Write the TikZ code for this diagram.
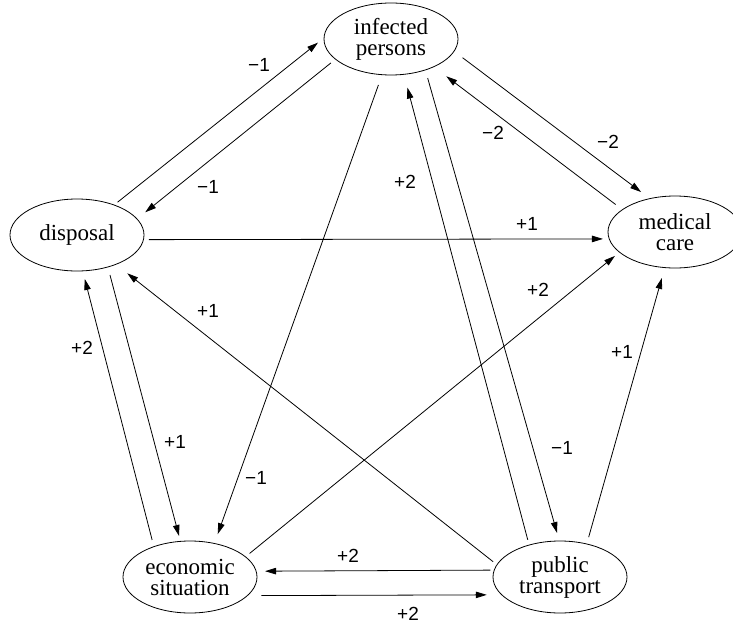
\documentclass[tikz,border=0pt]{standalone}
\usepackage{fontspec}
\setmainfont{Liberation Serif}
\newfontfamily\lblfont{Liberation Sans}
\usetikzlibrary{arrows.meta,shapes.geometric}
\begin{document}
\begin{tikzpicture}[x=1pt,y=-1pt,
  state/.style={draw, ellipse, line width=0.8pt, minimum width=134pt, minimum height=72pt,
    inner sep=0pt, outer sep=0pt, align=center, font=\fontsize{23}{21}\selectfont},
  arr/.style={line width=0.8pt, -{Triangle[length=11pt,width=6.5pt]}},
  lbl/.style={font=\lblfont\fontsize{19}{19}\selectfont, inner sep=0pt}]
\path[use as bounding box, fill=white] (0,0) rectangle (733,626);

\node[state] (inf)  at (391,39)  {infected\\persons};
\node[state] (disp) at (77,235)  {disposal};
\node[state] (med)  at (675,232) {medical\\care};
\node[state] (econ) at (190,577) {economic\\situation};
\node[state] (pub)  at (560,577) {public\\transport};

\draw[arr, shorten <=4.5pt, shorten >=7.7pt] (disp.39.6) -- (inf.179.4) node[lbl] at (259,65) {−1};
\draw[arr, shorten <=6pt, shorten >=10.6pt] (inf.200.1) -- (disp.15.3) node[lbl] at (208,187) {−1};
\draw[arr, shorten <=5.4pt, shorten >=6.3pt] (disp.356.6) -- (med.186.1) node[lbl] at (527,224) {+1};
\draw[arr, shorten <=10.7pt, shorten >=11pt] (inf.349.7) -- (med.127.1) node[lbl] at (608,142) {−2};
\draw[arr, shorten <=8.5pt, shorten >=15.8pt] (med.157.7) -- (inf.327.8) node[lbl] at (493,133) {−2};
\draw[arr, shorten <=10.9pt, shorten >=9.9pt] (inf.256.9) -- (econ.54.9) node[lbl] at (256,478) {−1};
\draw[arr, shorten <=5.4pt, shorten >=13.7pt] (pub.134.8) -- (inf.290.9) node[lbl] at (405,182) {+2};
\draw[arr, shorten <=8.5pt, shorten >=8.3pt] (inf.318.4) -- (pub.91.2) node[lbl] at (562,448) {−1};
\draw[arr, shorten <=5.3pt, shorten >=5.9pt] (econ.20.6) -- (med.200.1) node[lbl] at (538,290) {+2};
\draw[arr, shorten <=4.9pt, shorten >=14.5pt] (pub.169.3) -- (disp.323.8) node[lbl] at (208,311) {+1};
\draw[arr, shorten <=7pt, shorten >=8.4pt] (econ.140.2) -- (disp.279.4) node[lbl] at (82,348) {+2};
\draw[arr, shorten <=8.3pt, shorten >=5.6pt] (disp.314) -- (econ.105.1) node[lbl] at (175,442) {+1};
\draw[arr, shorten <=7.1pt, shorten >=10.8pt] (pub.51.8) -- (med.254.3) node[lbl] at (622,352) {+1};
\draw[arr, shorten <=3.9pt, shorten >=8.9pt] (pub.174.8) -- (econ.5.2) node[lbl] at (348,556) {+2};
\draw[arr, shorten <=14pt, shorten >=15pt] (econ.342.8) -- (pub.197.2) node[lbl] at (408,614) {+2};
\end{tikzpicture}
\end{document}
